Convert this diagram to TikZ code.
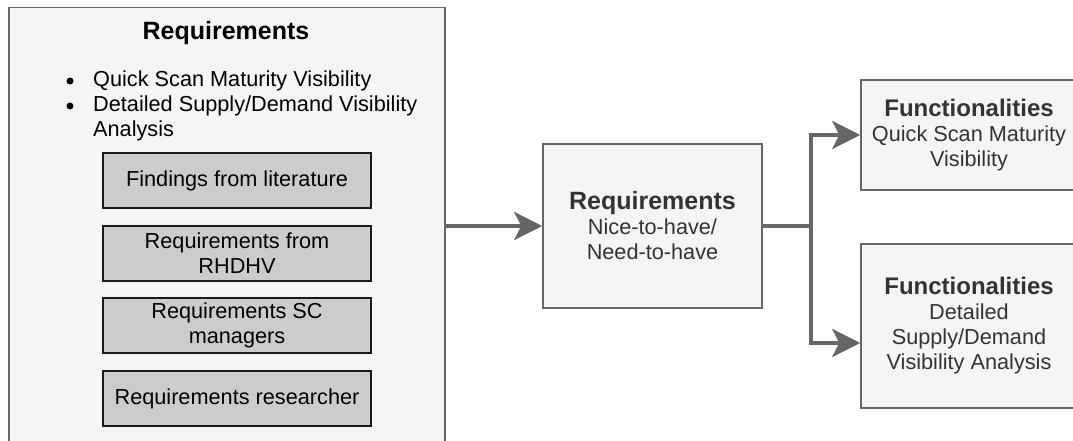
\documentclass[tikz,border=0pt]{standalone}
\usepackage{fontspec}
\setmainfont{Liberation Sans}
\usetikzlibrary{arrows.meta}
\definecolor{edge}{HTML}{666666}
\definecolor{panel}{HTML}{F5F5F5}
\definecolor{source}{HTML}{CCCCCC}
\definecolor{ink}{HTML}{333333}

\begin{document}
\begin{tikzpicture}[x=1pt,y=-1pt,
  body/.style={font=\fontsize{21.7}{25}\selectfont},
  heading/.style={font=\bfseries\fontsize{25}{28}\selectfont},
  panelbox/.style={draw=edge, fill=panel, line width=1.5pt},
  sourcebox/.style={draw=black!90, fill=source, line width=1.5pt,
    minimum width=268pt, minimum height=55pt, align=center, inner sep=2pt, body},
  stagebox/.style={panelbox, align=center, text=ink, inner sep=2pt, body},
  flow/.style={draw=edge, line width=4pt,
    -{Stealth[length=28pt, width=28pt, inset=7pt]}},
  bulletdot/.style={fill=black, circle, inner sep=0pt, minimum size=7pt}
]
\useasboundingbox (0,0) rectangle (1073,441);
\clip (0,0) rectangle (1073,441);

% left panel collecting the sources of requirements
\node[panelbox, minimum width=436pt, minimum height=460pt, anchor=north west,
  inner sep=0pt] (panel) at (8,7) {};
\node[heading, anchor=base] (ptitle) at (226,40) {Requirements};
\node[bulletdot] (b1) at (70,81) {};
\node[bulletdot] (b2) at (70,106) {};
\node[body, anchor=base west, inner sep=0pt] (l1) at (93,87) {Quick Scan Maturity Visibility};
\node[body, anchor=base west, inner sep=0pt] (l2) at (93,112) {Detailed Supply/Demand Visibility};
\node[body, anchor=base west, inner sep=0pt] (l3) at (93,137) {Analysis};

\node[sourcebox] (s1) at (237,180.5) {Findings from literature};
\node[sourcebox] (s2) at (237,253.5) {Requirements from\\RHDHV};
\node[sourcebox] (s3) at (237,325.5) {Requirements SC\\managers};
\node[sourcebox] (s4) at (237,398.5) {Requirements researcher};

% consolidated requirements
\node[stagebox, minimum width=219pt, minimum height=164pt] (mid) at (652.5,226)
  {{\bfseries\fontsize{25}{26}\selectfont Requirements}\\Nice-to-have/\\Need-to-have};

% resulting functionalities
\node[stagebox, minimum width=216pt, minimum height=110pt] (f1) at (969,135)
  {{\bfseries\fontsize{24}{25}\selectfont Functionalities}\\Quick Scan Maturity\\Visibility};
\node[stagebox, minimum width=216pt, minimum height=164pt] (f2) at (969,326)
  {{\bfseries\fontsize{24}{25}\selectfont Functionalities}\\Detailed\\Supply/Demand\\Visibility Analysis};

% connectors
\coordinate (split) at (811,226);
\coordinate (f2in) at ([yshift=-17pt]f2.west);
\draw[flow] (panel.east |- mid.west) -- (mid.west);
\draw[flow] (mid.east) -- (split) |- (f1.west);
\draw[flow] (mid.east) -- (split) |- (f2in);
\end{tikzpicture}
\end{document}
